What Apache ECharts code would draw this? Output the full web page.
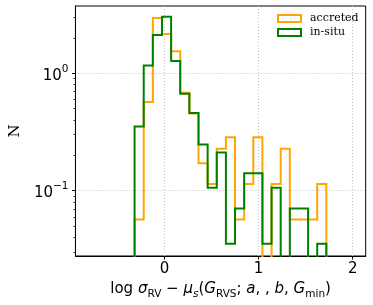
<!DOCTYPE html>
<html>
<head>
<meta charset="utf-8">
<script src="https://cdn.jsdelivr.net/npm/echarts@6/dist/echarts.min.js"></script>
<style>html,body{margin:0;padding:0;background:#fff}#c{width:373px;height:305px}</style>
</head>
<body>
<div id="c"></div>
<script>
// Histogram bin edges (x) and densities
var binEdges = [-0.317, -0.220, -0.123, -0.026, 0.071, 0.168, 0.265, 0.362, 0.459, 0.556, 0.653,
                0.750, 0.847, 0.944, 1.041, 1.138, 1.235, 1.332, 1.429, 1.526, 1.623, 1.720];
var accreted = [0.0569, 0.569, 2.96, 2.16, 1.54, 0.683, 0.455, 0.171, 0.114, 0.228, 0.285,
                0.0569, 0.114, 0.285, 0, 0.114, 0.228, 0.0569, 0.0569, 0.0569, 0.114];
var insitu   = [0.353, 1.165, 2.118, 3.03, 1.27, 0.67, 0.459, 0.247, 0.106, 0.212, 0.0353,
                0.0706, 0.141, 0.141, 0.0353, 0.106, 0, 0.0706, 0.0706, 0, 0.0353];
var seriesNames = ['accreted', 'in-situ'];
var xTicks = [0, 1, 2];
var yMajorTicks = [0.1, 1];
var yMinorTicks = [0.03, 0.04, 0.05, 0.06, 0.07, 0.08, 0.09, 0.2, 0.3, 0.4, 0.5, 0.6, 0.7, 0.8, 0.9, 2, 3];
var yLabels = {'0.1': '\u22121', '1': '0'};

var FLOOR = 1e-4;
function stepData(vals) {
  var d = [[binEdges[0], FLOOR]];
  for (var i = 0; i < vals.length; i++) d.push([binEdges[i], vals[i] > 0 ? vals[i] : FLOOR]);
  d.push([binEdges[binEdges.length - 1], vals[vals.length - 1] > 0 ? vals[vals.length - 1] : FLOOR]);
  d.push([binEdges[binEdges.length - 1], FLOOR]);
  return d;
}
var ORANGE = '#FFA500', GREEN = '#008000';
var yMin = 0.0278, yMax = 3.74;
var chart = echarts.init(document.getElementById('c'), null, {renderer: 'canvas'});
var sans = 'DejaVu Sans', serif = 'DejaVu Serif';
chart.setOption({
  animation: false,
  backgroundColor: '#fff',
  grid: {left: 71, top: 6, right: 7.3, bottom: 49, show: true, borderColor: '#000', borderWidth: 1, backgroundColor: 'transparent'},
  legend: {
    orient: 'vertical', left: 277, top: 13, padding: 0, itemGap: 3,
    itemWidth: 23, itemHeight: 7,
    textStyle: {fontFamily: serif, fontSize: 11, color: '#000', padding: [0, 0, 0, 4]},
    data: [
      {name: seriesNames[0], icon: 'rect', itemStyle: {color: '#fff', borderColor: ORANGE, borderWidth: 2}},
      {name: seriesNames[1], icon: 'rect', itemStyle: {color: '#fff', borderColor: GREEN, borderWidth: 2}}
    ]
  },
  xAxis: {
    type: 'value', min: -0.945, max: 2.138,
    axisLine: {show: true, onZero: false, lineStyle: {color: '#000', width: 1}},
    axisTick: {show: true, length: 3.5, customValues: xTicks, lineStyle: {color: '#000', width: 1}},
    axisLabel: {customValues: xTicks, margin: 6, fontFamily: sans, fontSize: 15, color: '#000'},
    splitLine: {show: true, lineStyle: {color: '#c4c4c4', width: 1, type: [1, 2]}},
    name: '{n|log }{i|\u03c3}{s|RV}{n| \u2212 }{i|\u03bc}{si|s}{n|(}{i|G}{s|RVS}{n|; }{i|a}{n|, , }{i|b}{n|, }{i|G}{s|min}{n|)}',
    nameLocation: 'middle', nameGap: 24,
    nameTextStyle: {
      color: '#000',
      rich: {
        n: {fontFamily: sans, fontSize: 15, color: '#000', lineHeight: 18, verticalAlign: 'top'},
        i: {fontFamily: sans, fontStyle: 'italic', fontSize: 15, color: '#000', lineHeight: 18, verticalAlign: 'top'},
        s: {fontFamily: sans, fontSize: 10.5, color: '#000', lineHeight: 10, verticalAlign: 'bottom'},
        si: {fontFamily: sans, fontStyle: 'italic', fontSize: 10.5, color: '#000', lineHeight: 10, verticalAlign: 'bottom'}
      }
    }
  },
  yAxis: [{
    type: 'log', logBase: 10, min: yMin, max: yMax,
    axisLine: {show: true, onZero: false, lineStyle: {color: '#000', width: 1}},
    axisTick: {show: true, length: 3.5, customValues: yMajorTicks, lineStyle: {color: '#000', width: 1}},
    axisLabel: {
      customValues: yMajorTicks, margin: 7,
      formatter: function (v) { var k = (Math.round(v * 10) / 10).toString(); return '{b|10}{p|' + yLabels[k] + '}'; },
      rich: {
        b: {fontFamily: sans, fontSize: 15, color: '#000', lineHeight: 20, verticalAlign: 'bottom'},
        p: {fontFamily: sans, fontSize: 10.5, color: '#000', lineHeight: 14, verticalAlign: 'top'}
      }
    },
    splitLine: {show: true, lineStyle: {color: '#c4c4c4', width: 1, type: [1, 2]}},
    minorTick: {show: false},
    name: 'N', nameLocation: 'middle', nameGap: 43, nameRotate: 90,
    nameTextStyle: {fontFamily: serif, fontSize: 15, color: '#000'}
  }, {
    type: 'log', logBase: 10, min: yMin, max: yMax, position: 'left', gridIndex: 0,
    axisLine: {show: false, onZero: false},
    axisTick: {show: true, length: 2, customValues: yMinorTicks, lineStyle: {color: '#000', width: 0.8}},
    axisLabel: {show: false},
    splitLine: {show: false}
  }],
  series: [
    {name: seriesNames[0], type: 'line', step: 'end', data: stepData(accreted), showSymbol: false, symbol: 'none',
     clip: true, itemStyle: {color: ORANGE}, lineStyle: {color: ORANGE, width: 2, join: 'miter'}, z: 2},
    {name: seriesNames[1], type: 'line', step: 'end', data: stepData(insitu), showSymbol: false, symbol: 'none',
     clip: true, itemStyle: {color: GREEN}, lineStyle: {color: GREEN, width: 2, join: 'miter'}, z: 3}
  ]
});
</script>
</body>
</html>
